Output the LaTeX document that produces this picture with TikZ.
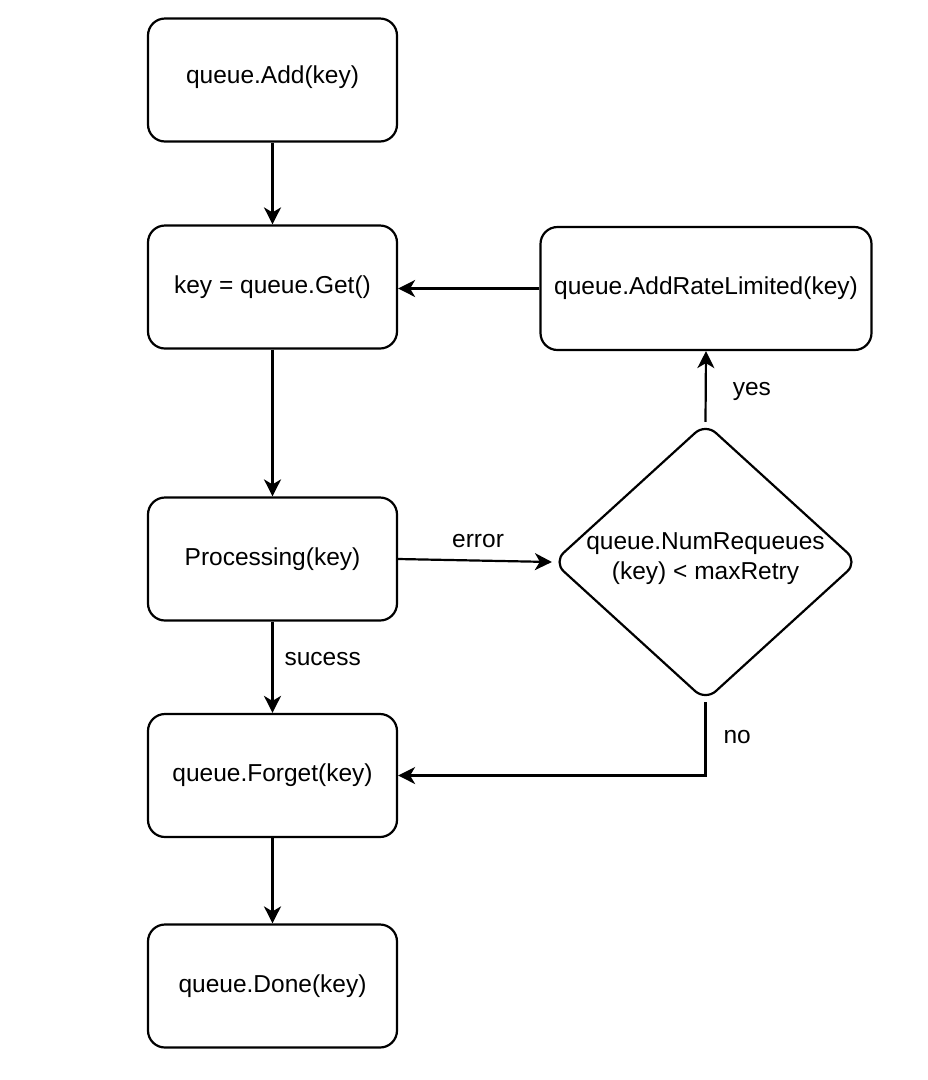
\documentclass[tikz,border=0pt]{standalone}
\usepackage{fontspec}
\setmainfont{Liberation Sans}
\usetikzlibrary{arrows.meta,shapes.geometric}
\begin{document}
\begin{tikzpicture}[x=1pt,y=-1pt,
  every node/.style={font=\fontsize{24.5}{30}\selectfont},
  box/.style={draw, line width=2.2pt, rounded corners=17pt, minimum width=249pt, minimum height=123pt, inner sep=0pt},
  dec/.style={draw, diamond, line width=2.2pt, rounded corners=14pt, minimum width=305pt, minimum height=278pt, inner sep=0pt},
  conn/.style={line width=2.2pt, -{Stealth[length=17pt,width=17pt,inset=5pt]}},
  lbl/.style={inner sep=0pt}
]
\useasboundingbox (0,0) rectangle (928,1080);
\node[box] (add) at (272.5,80) {};
\node at (272.5,77) {queue.Add(key)};
\node[box] (get) at (272.5,287) {key = queue.Get()};
\node[box] (proc) at (272.5,559) {Processing(key)};
\node[box] (forget) at (272.5,775.5) {queue.Forget(key)};
\node[box] (done) at (272.5,986) {queue.Done(key)};
\node[box, minimum width=331pt] (rate) at (706,288.5) {queue.AddRateLimited(key)};
\node[dec] (chk) at (705.5,562) {};
\node[align=center] (chktxt) at (705.5,559) {queue.NumRequeues\\(key) {<} maxRetry};

\draw[conn] (add) -- (get);
\draw[conn] (get) -- (proc);
\draw[conn] (proc.east) -- node[lbl, pos=0.52, above=12pt] {error} (chk.west);
\draw[conn] (chk.north) -- node[lbl, pos=0.43, right=26pt] {yes} (rate.south);
\draw[conn] (rate.west) -- (get.east |- rate.west);
\draw[conn] (proc) -- node[lbl, pos=0.41, right=11pt] {sucess} (forget);
\draw[conn] (chk.south) |- node[lbl, pos=0.24, right=17pt] {no} (forget.east);
\draw[conn] (forget) -- (done);
\end{tikzpicture}
\end{document}
